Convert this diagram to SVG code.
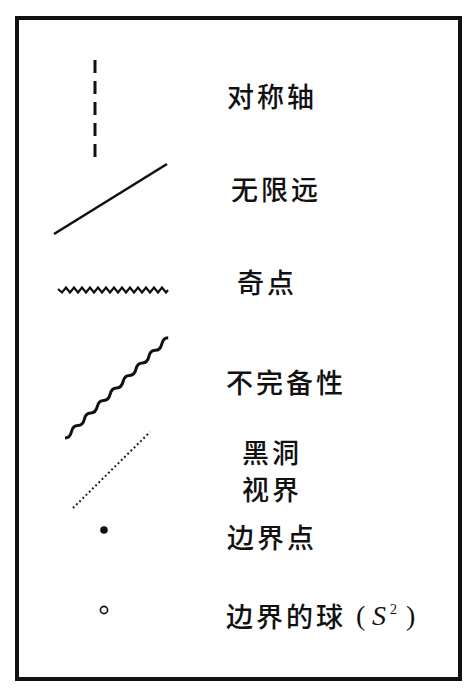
<svg xmlns="http://www.w3.org/2000/svg" width="467" height="696" viewBox="0 0 467 696">
<style>
.lbl{font-family:"Noto Sans CJK SC","Noto Sans",sans-serif;font-size:27px;font-weight:500;fill:#111;letter-spacing:3px}
.ser{font-family:"Liberation Serif","DejaVu Serif",serif;fill:#111}
.ln{fill:none;stroke:#111;stroke-linecap:butt}
</style>
<rect x="0" y="0" width="467" height="696" fill="#fff"/>
<rect id="frame" x="17" y="18" width="443" height="661" fill="none" stroke="#111" stroke-width="4"/>
<g id="connectors">
  <line class="ln" x1="95" y1="60" x2="95" y2="160" stroke-width="3" stroke-dasharray="13,8"/>
  <line class="ln" x1="54" y1="234" x2="167" y2="164" stroke-width="2.6"/>
  <polyline class="ln" stroke-width="2.2" stroke-linejoin="miter" points="58,289 62,292.5 66,287.5 70,292.5 74,287.5 78,292.5 82,287.5 86,292.5 90,287.5 94,292.5 98,287.5 102,292.5 106,287.5 110,292.5 114,287.5 118,292.5 122,287.5 126,292.5 130,287.5 134,292.5 138,287.5 142,292.5 146,287.5 150,292.5 154,287.5 158,292.5 162,287.5 166,292.5 168,290"/>
  <path class="ln" stroke-width="3" d="M65,438 q5,0 6.45,-6.26 q1.45,-6.26 6.45,-6.26 q5,0 6.45,-6.26 q1.45,-6.26 6.45,-6.26 q5,0 6.45,-6.26 q1.45,-6.26 6.45,-6.26 q5,0 6.45,-6.26 q1.45,-6.26 6.45,-6.26 q5,0 6.45,-6.26 q1.45,-6.26 6.45,-6.26 q5,0 6.45,-6.26 q1.45,-6.26 6.45,-6.26 q5,0 6.45,-6.26 q1.45,-6.26 6.45,-6.26 q5,0 6.45,-6.26 q1.45,-6.26 6.45,-6.26"/>
  <line class="ln" x1="73" y1="508" x2="150" y2="432" stroke-width="2" stroke-dasharray="1.8,2.7"/>
</g>
<g id="n-axis"><text class="lbl" x="227" y="107">对称轴</text></g>
<g id="n-inf"><text class="lbl" x="231" y="200">无限远</text></g>
<g id="n-sing"><text class="lbl" x="237" y="293">奇点</text></g>
<g id="n-incomplete"><text class="lbl" x="226" y="393">不完备性</text></g>
<g id="n-horizon"><text class="lbl" x="242" y="463">黑洞</text><text class="lbl" x="242" y="500">视界</text></g>
<g id="n-bpoint"><circle cx="104" cy="530" r="3.8" fill="#111"/><text class="lbl" x="227" y="548">边界点</text></g>
<g id="n-bsphere"><circle cx="104" cy="610" r="3.6" fill="none" stroke="#111" stroke-width="1.6"/><text class="lbl" x="226" y="627">边界的球</text><text class="ser" x="356" y="625" style="font-size:28px">(</text><text class="ser" x="372" y="625" style="font-size:28px;font-style:italic">S</text><text class="ser" x="390" y="614" style="font-size:14px">2</text><text class="ser" x="406" y="625" style="font-size:28px">)</text></g>
</svg>
